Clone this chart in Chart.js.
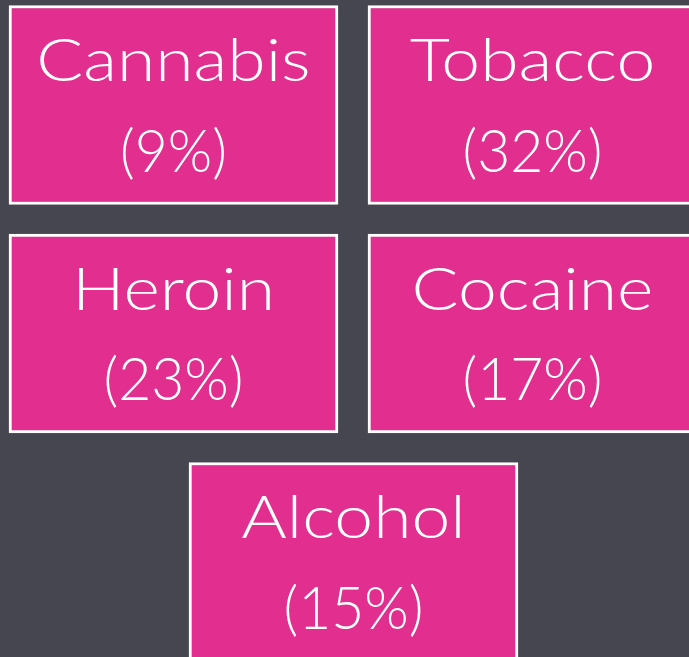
<!DOCTYPE html>
<html>
<head>
<meta charset="utf-8">
<script src="https://cdn.jsdelivr.net/npm/chart.js@4/dist/chart.umd.min.js"></script>
<style>
    html, body { margin: 0; padding: 0; background: #464651; }
    #wrap { width: 689px; height: 657px; position: relative; }
</style>
</head>
<body>
<div id="wrap"><canvas id="chart"></canvas></div>
<script>
const categories = ['Cannabis', 'Tobacco', 'Heroin', 'Cocaine', 'Alcohol'];
const shares = [9, 32, 23, 17, 15];

// grid layout in page units (x: 0..689, y: 0..657)
const boxWidth = 329;
const boxHeight = 199;
const colStarts = [9, 368];
const rowCenters = [105, 333.5, 562];
const lastRowStart = 189;

const boxes = categories.map((name, i) => {
    const row = Math.floor(i / 2);
    const last = i === categories.length - 1 && categories.length % 2 === 1;
    const x0 = last ? lastRowStart : colStarts[i % 2];
    return { x: [x0, x0 + boxWidth], y: rowCenters[row] };
});

// the reference face is wider than Lato for letters, narrower for the numbers
const nameStretch = 1.16;
const shareStretch = 0.95;

const boxLabels = {
    id: 'boxLabels',
    afterDatasetsDraw(chart) {
        const ctx = chart.ctx;
        const meta = chart.getDatasetMeta(0);
        ctx.save();
        ctx.fillStyle = '#ffffff';
        ctx.textAlign = 'center';
        ctx.textBaseline = 'alphabetic';
        ctx.font = '300 60px Lato, "Open Sans", sans-serif';
        meta.data.forEach((bar, i) => {
            const p = bar.getProps(['x', 'y', 'base', 'height']);
            const cx = (p.x + p.base) / 2;
            const lines = [
                [categories[i], p.y - 0.12 * p.height, nameStretch],
                ['(' + shares[i] + '%)', p.y + 0.335 * p.height, shareStretch],
            ];
            lines.forEach(([txt, ty, sx]) => {
                ctx.save();
                ctx.translate(cx, ty);
                ctx.scale(sx, 1);
                ctx.fillText(txt, 0, 0);
                ctx.restore();
            });
        });
        ctx.restore();
    },
};

new Chart(document.getElementById('chart').getContext('2d'), {
    type: 'bar',
    data: {
        labels: categories,
        datasets: [
            {
                label: 'Share',
                data: boxes,
                backgroundColor: '#e22e8f',
                borderColor: '#ffffff',
                borderWidth: 3,
                borderSkipped: false,
                barThickness: boxHeight,
            },
        ],
    },
    options: {
        indexAxis: 'y',
        maintainAspectRatio: false,
        responsive: true,
        animation: false,
        layout: { padding: 0 },
        plugins: {
            legend: { display: false },
            tooltip: { enabled: false },
        },
        scales: {
            x: { type: 'linear', min: 0, max: 689, display: false },
            y: { type: 'linear', min: 0, max: 657, reverse: true, offset: false, display: false },
        },
    },
    plugins: [boxLabels],
});
</script>
</body>
</html>
